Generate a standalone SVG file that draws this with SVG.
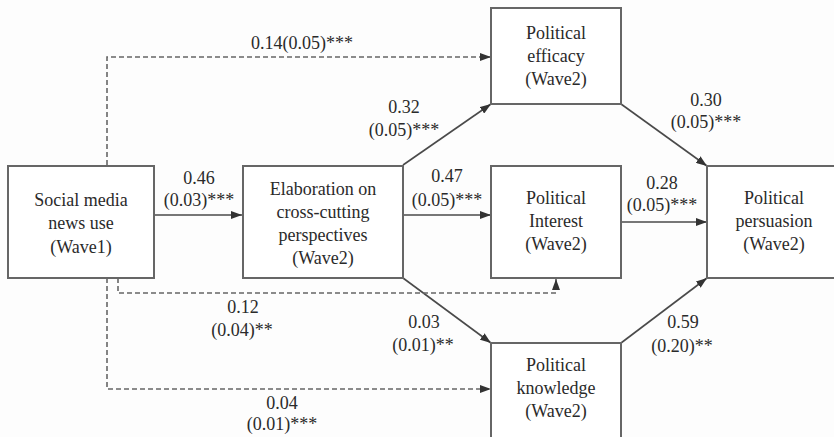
<svg xmlns="http://www.w3.org/2000/svg" width="834" height="437" viewBox="0 0 834 437">
<style>
.box{fill:#ffffff;stroke:#666666;stroke-width:2}
.t{font-family:'Liberation Serif','DejaVu Serif',serif;font-size:18px;fill:#2a2a2a;text-anchor:middle}
.solid{fill:none;stroke:#4a4a4a;stroke-width:1.6}
.dash{fill:none;stroke:#666666;stroke-width:1.6;stroke-dasharray:5 3}
</style>
<defs>
<marker id="ah" markerUnits="userSpaceOnUse" markerWidth="11" markerHeight="8" refX="11" refY="4" orient="auto">
<path d="M0,0 L11,4 L0,8 z" fill="#333333"/>
</marker>
</defs>
<rect x="0" y="0" width="834" height="437" fill="#fdfdfd"/>
<g id="connectors">
<path class="solid" d="M154,215 H242" marker-end="url(#ah)"/>
<path class="solid" d="M403,165 L491,104" marker-end="url(#ah)"/>
<path class="solid" d="M403,215 H491" marker-end="url(#ah)"/>
<path class="solid" d="M403,278 L491,343" marker-end="url(#ah)"/>
<path class="solid" d="M621,104 L707,166" marker-end="url(#ah)"/>
<path class="solid" d="M621,222 H707" marker-end="url(#ah)"/>
<path class="solid" d="M621,343 L707,278" marker-end="url(#ah)"/>
<path class="dash" d="M107,165 V57 H491" marker-end="url(#ah)"/>
<path class="dash" d="M118,278 V293 H556 V279" marker-end="url(#ah)"/>
<path class="dash" d="M107,278 V389 H491" marker-end="url(#ah)"/>
</g>
<g id="labels" font-family="Liberation Serif, serif">
<text class="t" x="302" y="49">0.14(0.05)***</text>
<text class="t" x="199" y="184">0.46</text>
<text class="t" x="199" y="206">(0.03)***</text>
<text class="t" x="404" y="113">0.32</text>
<text class="t" x="404" y="136">(0.05)***</text>
<text class="t" x="447" y="182">0.47</text>
<text class="t" x="447" y="206">(0.05)***</text>
<text class="t" x="706" y="106">0.30</text>
<text class="t" x="706" y="128">(0.05)***</text>
<text class="t" x="662" y="189">0.28</text>
<text class="t" x="662" y="211">(0.05)***</text>
<text class="t" x="243" y="313">0.12</text>
<text class="t" x="242" y="336">(0.04)**</text>
<text class="t" x="424" y="328">0.03</text>
<text class="t" x="423" y="351">(0.01)**</text>
<text class="t" x="683" y="328">0.59</text>
<text class="t" x="682" y="352">(0.20)**</text>
<text class="t" x="282" y="409">0.04</text>
<text class="t" x="282" y="430">(0.01)***</text>
</g>
<g id="social">
<rect class="box" x="8" y="166" width="146" height="112"/>
<text class="t" x="81" y="206">Social media</text>
<text class="t" x="81" y="229">news use</text>
<text class="t" x="81" y="253">(Wave1)</text>
</g>
<g id="elaboration">
<rect class="box" x="243" y="166" width="160" height="112"/>
<text class="t" x="323" y="195">Elaboration on</text>
<text class="t" x="323" y="218">cross-cutting</text>
<text class="t" x="323" y="241">perspectives</text>
<text class="t" x="323" y="264">(Wave2)</text>
</g>
<g id="efficacy">
<rect class="box" x="491" y="8" width="130" height="96"/>
<text class="t" x="556" y="39">Political</text>
<text class="t" x="556" y="62">efficacy</text>
<text class="t" x="556" y="85">(Wave2)</text>
</g>
<g id="interest">
<rect class="box" x="491" y="166" width="130" height="112"/>
<text class="t" x="556" y="204">Political</text>
<text class="t" x="556" y="227">Interest</text>
<text class="t" x="556" y="250">(Wave2)</text>
</g>
<g id="knowledge">
<rect class="box" x="491" y="343" width="130" height="100"/>
<text class="t" x="556" y="371">Political</text>
<text class="t" x="556" y="394">knowledge</text>
<text class="t" x="556" y="417">(Wave2)</text>
</g>
<g id="persuasion">
<rect class="box" x="707" y="166" width="135" height="112"/>
<text class="t" x="774" y="204">Political</text>
<text class="t" x="774" y="227">persuasion</text>
<text class="t" x="774" y="250">(Wave2)</text>
</g>
</svg>
